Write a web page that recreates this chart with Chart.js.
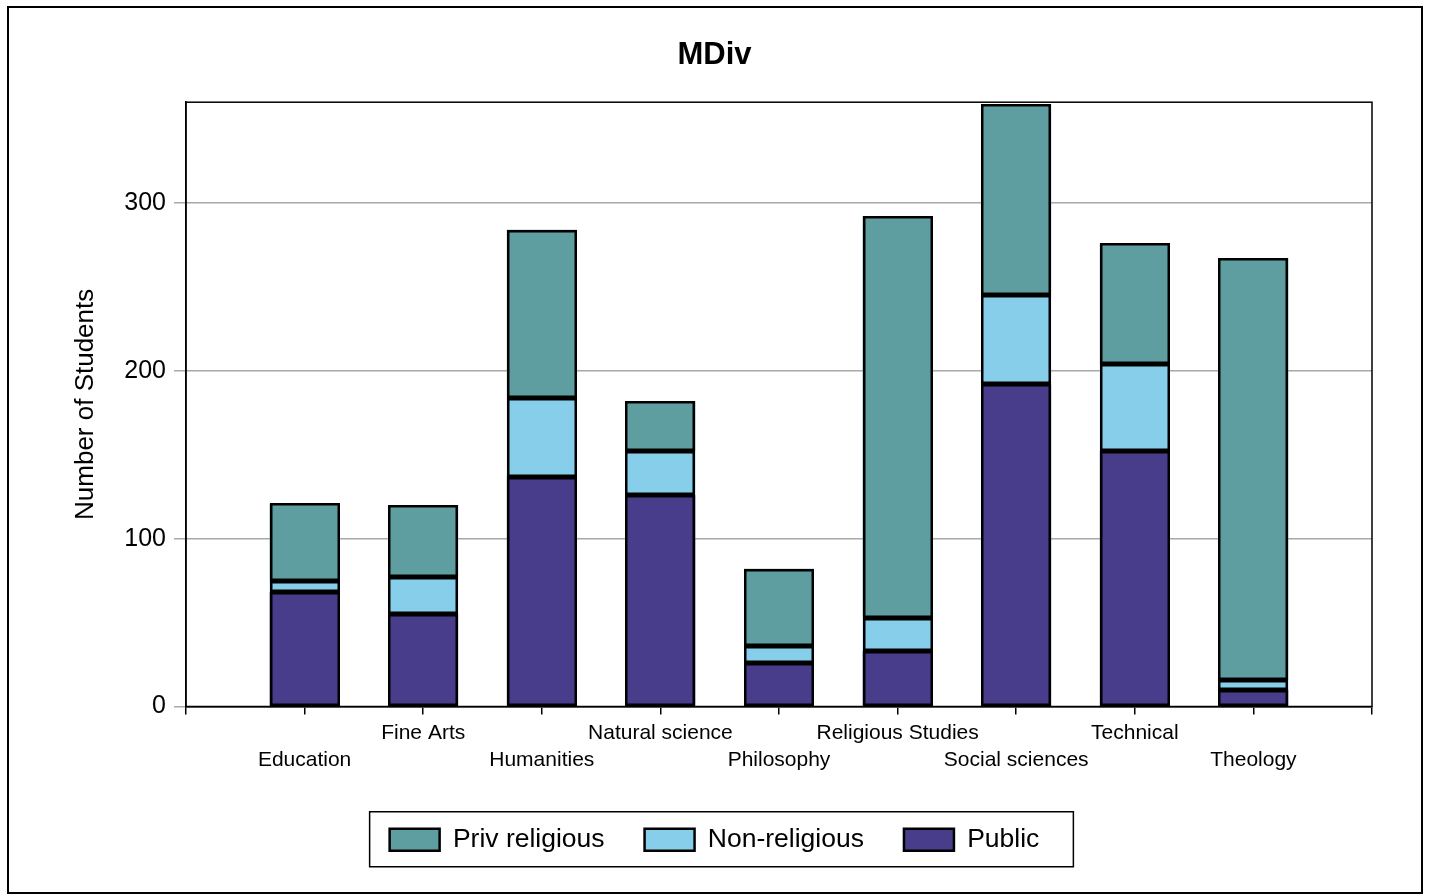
<!DOCTYPE html>
<html>
<head>
<meta charset="utf-8">
<title>MDiv</title>
<script src="https://cdn.jsdelivr.net/npm/chart.js@4.4.1/dist/chart.umd.min.js"></script>
<style>
  html, body { margin: 0; padding: 0; background: #fff; }
  #wrap { width: 1429px; height: 895px; }
</style>
</head>
<body>
<div id="wrap"><canvas id="mdivChart" width="1429" height="895"></canvas></div>
<script>
// Fields of study (x axis)
const categories = ['Education', 'Fine Arts', 'Humanities', 'Natural science', 'Philosophy',
    'Religious Studies', 'Social sciences', 'Technical', 'Theology'];

// Number of students per institution type
const publicCounts = [68, 55, 137, 126, 26, 33, 192, 152, 10];
const nonReligiousCounts = [7, 22, 47, 26, 10, 20, 53, 52, 6];
const privReligiousCounts = [46, 43, 100, 30, 46, 239, 114, 72, 251];

const yTicks = [0, 100, 200, 300];
const yMax = 360;

const FONT = "'Liberation Sans', Arial, sans-serif";

// category axis runs one empty slot either side of the bars
const labels = ['', ...categories, ''];
const pad = arr => [null, ...arr, null];

// black outline on every bar segment, drawn after all fills so neighbours don't cover it
const barOutline = {
    id: 'barOutline',
    afterDatasetsDraw(chart) {
        const ctx = chart.ctx;
        const lw = 2.5;
        ctx.save();
        ctx.strokeStyle = '#000';
        ctx.lineWidth = lw;
        chart.getSortedVisibleDatasetMetas().forEach(meta => {
            meta.data.forEach((bar, i) => {
                if (meta._parsed[i] == null || chart.data.datasets[meta.index].data[i] == null) return;
                const p = bar.getProps(['x', 'y', 'base', 'width'], true);
                const left = Math.round(p.x - p.width / 2);
                const right = Math.round(p.x + p.width / 2);
                const top = Math.round(Math.min(p.y, p.base));
                const bottom = Math.round(Math.max(p.y, p.base));
                ctx.strokeRect(left + lw / 2, top + lw / 2, right - left - lw, bottom - top - lw);
            });
        });
        ctx.restore();
    }
};

// box round the plot area, box round the legend, outer frame
const framePlugin = {
    id: 'frames',
    afterDraw(chart) {
        const ctx = chart.ctx;
        const a = chart.chartArea;
        ctx.save();
        ctx.strokeStyle = '#000';
        ctx.lineWidth = 1.5;
        ctx.strokeRect(a.left, a.top, a.right - a.left, a.bottom - a.top);

        const boxes = chart.legend.legendHitBoxes;
        if (boxes && boxes.length) {
            const first = boxes[0];
            const last = boxes[boxes.length - 1];
            const cy = first.top + first.height / 2;
            ctx.lineWidth = 1.5;
            ctx.strokeRect(first.left - 20, cy - 28, (last.left + last.width + 34) - (first.left - 20), 55);
        }

        ctx.lineWidth = 2;
        ctx.strokeRect(8, 7, 1414, 886);
        ctx.restore();
    }
};

const datasetStyle = {
    borderColor: '#000',
    borderWidth: 0,
    borderSkipped: false,
    inflateAmount: 0,
    barPercentage: 0.59,
    categoryPercentage: 1.0
};

new Chart(document.getElementById('mdivChart'), {
    type: 'bar',
    data: {
        labels: labels,
        datasets: [
            Object.assign({ label: 'Public', data: pad(publicCounts), backgroundColor: '#483D8B' }, datasetStyle),
            Object.assign({ label: 'Non-religious', data: pad(nonReligiousCounts), backgroundColor: '#87CEEB' }, datasetStyle),
            Object.assign({ label: 'Priv religious', data: pad(privReligiousCounts), backgroundColor: '#5F9EA0' }, datasetStyle)
        ]
    },
    options: {
        responsive: false,
        animation: false,
        layout: {
            padding: { left: 57, right: 57, top: 10, bottom: 32 }
        },
        scales: {
            x: {
                stacked: true,
                offset: false,
                grid: {
                    offset: false,
                    drawOnChartArea: false,
                    drawTicks: true,
                    tickLength: 8,
                    color: '#000',
                    lineWidth: 1.5
                },
                border: { color: '#000', width: 1.5 },
                ticks: {
                    autoSkip: false,
                    maxRotation: 0,
                    minRotation: 0,
                    padding: 5,
                    color: '#000',
                    font: { family: FONT, size: 21, lineHeight: 1.3 },
                    callback: function (value, index) {
                        const text = labels[index];
                        if (!text) return '';
                        return (index - 1) % 2 === 0 ? ['', text] : text;
                    }
                },
                afterFit(scale) {
                    scale.height = 80;
                }
            },
            y: {
                stacked: true,
                min: 0,
                max: yMax,
                grid: {
                    color: '#a8a8a8',
                    lineWidth: 1.5,
                    tickLength: 12,
                    tickColor: '#a8a8a8'
                },
                border: { color: '#000', width: 1.5 },
                ticks: {
                    stepSize: 100,
                    includeBounds: false,
                    padding: 8,
                    color: '#000',
                    font: { family: FONT, size: 25 }
                },
                afterBuildTicks(scale) {
                    scale.ticks = yTicks.map(v => ({ value: v }));
                },
                title: {
                    display: true,
                    text: 'Number of Students',
                    color: '#000',
                    font: { family: FONT, size: 26 },
                    padding: { top: 13, bottom: 0 }
                },
                afterFit(scale) {
                    scale.width = 129;
                }
            }
        },
        plugins: {
            title: {
                display: true,
                text: 'MDiv',
                color: '#000',
                font: { family: FONT, size: 31, weight: 'bold' },
                padding: { top: 27, bottom: 28 }
            },
            legend: {
                position: 'bottom',
                reverse: true,
                labels: {
                    boxWidth: 50,
                    boxHeight: 22,
                    padding: 40,
                    color: '#000',
                    font: { family: FONT, size: 26.5 },
                    generateLabels(chart) {
                        const items = Chart.defaults.plugins.legend.labels.generateLabels(chart);
                        items.forEach(item => {
                            item.lineWidth = 2.5;
                            item.strokeStyle = '#000';
                        });
                        return items;
                    }
                }
            },
            tooltip: { enabled: false }
        }
    },
    plugins: [barOutline, framePlugin]
});
</script>
</body>
</html>
